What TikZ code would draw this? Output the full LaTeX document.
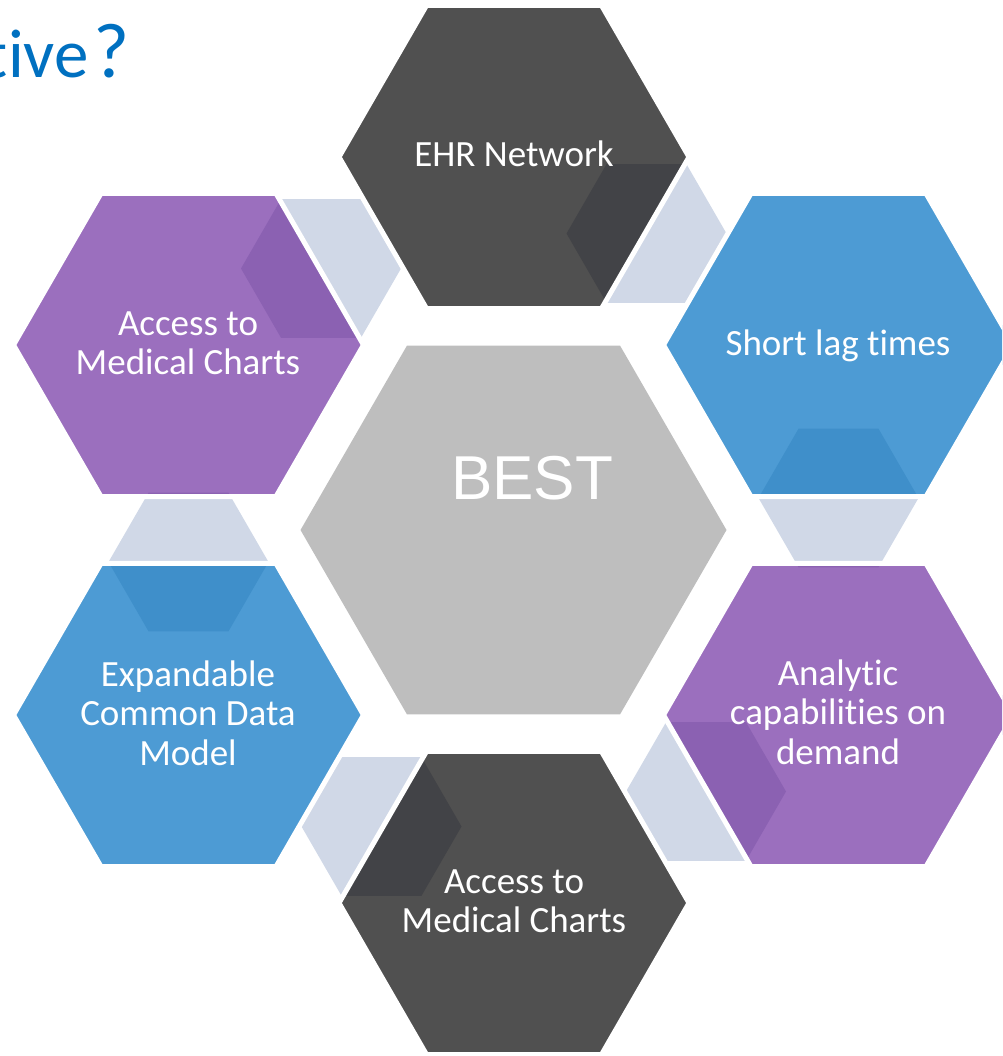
\documentclass[tikz,border=0pt]{standalone}
\usepackage{fontspec}
\setmainfont{Carlito}[Ligatures=NoCommon]
\newfontfamily\arialfont{Liberation Sans}
\definecolor{hdark}{HTML}{505050}
\definecolor{hdarkov}{HTML}{424347}
\definecolor{hpurple}{HTML}{9B6FBE}
\definecolor{hpurpleov}{HTML}{8B61B2}
\definecolor{hblue}{HTML}{4D9BD4}
\definecolor{hblueov}{HTML}{3F8FCA}
\definecolor{hconn}{HTML}{D0D8E7}
\definecolor{hgray}{HTML}{BEBEBE}
\definecolor{titleblue}{HTML}{0070C0}
\newcommand{\hexp}[3]{({#1+#3},{#2}) -- ({#1+0.5*#3},{#2-0.8660254*#3}) -- ({#1-0.5*#3},{#2-0.8660254*#3}) -- ({#1-#3},{#2}) -- ({#1-0.5*#3},{#2+0.8660254*#3}) -- ({#1+0.5*#3},{#2+0.8660254*#3}) -- cycle}
\newcommand{\connlist}{321/268.5, 646.5/233.5, 838.5/498, 706/791.5, 381.5/826.5, 188.5/562}
\newcommand{\mainhex}[4]{%
  \fill[#3] \hexp{#1}{#2}{175};
  \begin{scope}
    \clip \hexp{#1}{#2}{175};
    \foreach \cx/\cy in \connlist { \fill[#4] \hexp{\cx}{\cy}{80}; }
  \end{scope}
  \draw[white, line width=5pt] \hexp{#1}{#2}{175};
}
\tikzset{
  lbl/.style={text=white, inner sep=0pt, align=center, font=\fontsize{37}{39.5}\selectfont},
}
\begin{document}
\begin{tikzpicture}[x=1pt,y=-1pt]
\useasboundingbox (0,0) rectangle (1002,1056);
\clip (0,0) rectangle (1002,1056);
% title fragment
\node[text=titleblue, inner sep=0pt, anchor=base east, font=\fontsize{69}{80}\selectfont] (title) at (130,78) {tive\kern5pt{\fontsize{78}{80}\selectfont ?}};
% connectors (light)
\foreach \cx/\cy in \connlist { \fill[hconn] \hexp{\cx}{\cy}{80}; }
% outer hexagons
\mainhex{514}{157}{hdark}{hdarkov}
\mainhex{838.5}{345}{hblue}{hblueov}
\mainhex{838.5}{715}{hpurple}{hpurpleov}
\mainhex{514}{903}{hdark}{hdarkov}
\mainhex{188.5}{715}{hblue}{hblueov}
\mainhex{188.5}{345}{hpurple}{hpurpleov}
% center hexagon
\fill[hgray] \hexp{513.5}{530}{213};
% labels
\node[lbl] (ehr) at (514,154) {EHR Network};
\node[lbl] (lag) at (838,346) {Short lag times};
\node[lbl] (ana) at (838,712) {Analytic\\capabilities on\\demand};
\node[lbl] (acc2) at (514,901.5) {Access to\\Medical Charts};
\node[lbl] (exp) at (188,713) {Expandable\\Common Data\\Model};
\node[lbl] (acc1) at (188,343.5) {Access to\\Medical Charts};
\node[text=white, inner sep=0pt, font=\arialfont\fontsize{62}{70}\selectfont] (best) at (532,478) {BEST};
\end{tikzpicture}
\end{document}
